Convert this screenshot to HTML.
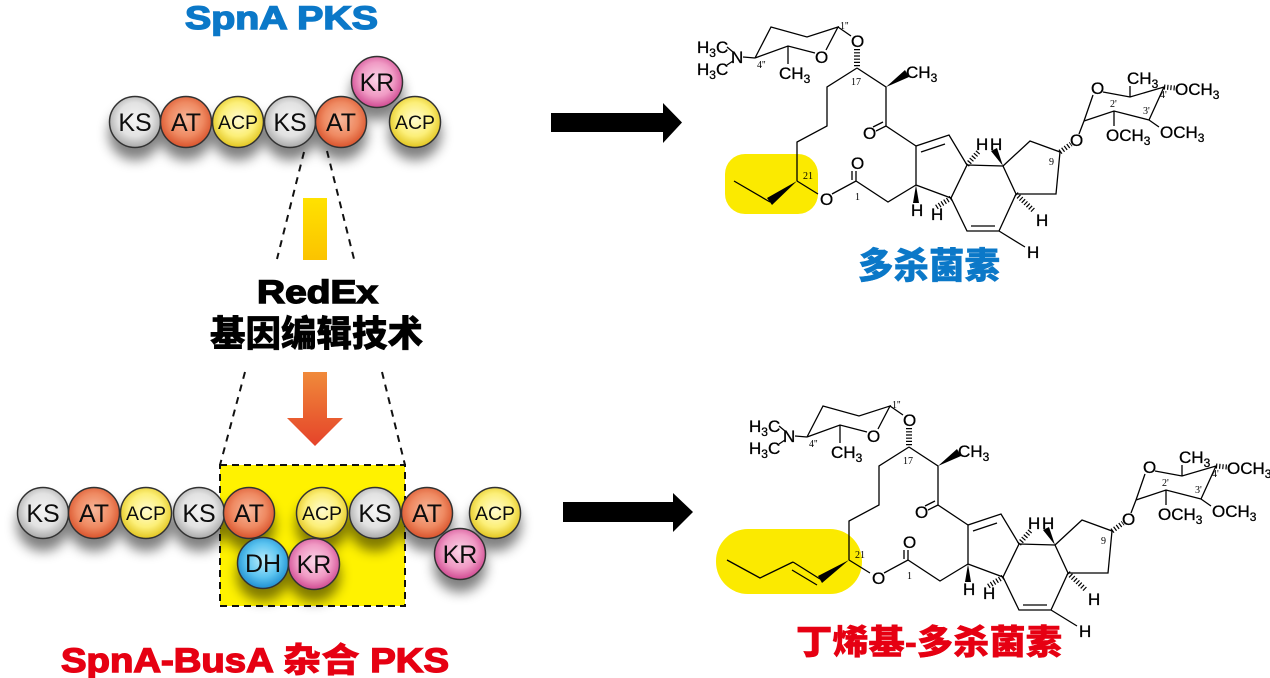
<!DOCTYPE html>
<html><head><meta charset="utf-8"><style>
html,body{margin:0;padding:0;background:#fff;}
svg{display:block;}
.t{font-family:"Liberation Sans","Noto Sans CJK SC",sans-serif;}
.m text{font-family:"Liberation Sans",sans-serif;font-size:17px;fill:#000;stroke:#000;stroke-width:0.3;}
.m text.s{font-family:"Liberation Serif",serif;font-size:10px;stroke:none;}
</style></head><body>
<svg width="1270" height="678" viewBox="0 0 1270 678" xmlns="http://www.w3.org/2000/svg">
<defs>
<radialGradient id="gKS" cx="50%" cy="45%" r="55%"><stop offset="0" stop-color="#f4f4f4"/><stop offset="0.6" stop-color="#e2e2e2"/><stop offset="1" stop-color="#a9a9a9"/></radialGradient>
<radialGradient id="gAT" cx="50%" cy="45%" r="55%"><stop offset="0" stop-color="#f7b79a"/><stop offset="0.6" stop-color="#ef8a62"/><stop offset="1" stop-color="#d9532c"/></radialGradient>
<radialGradient id="gACP" cx="50%" cy="45%" r="55%"><stop offset="0" stop-color="#fffbd0"/><stop offset="0.6" stop-color="#fcef78"/><stop offset="1" stop-color="#e2c520"/></radialGradient>
<radialGradient id="gKR" cx="50%" cy="45%" r="55%"><stop offset="0" stop-color="#fbd6e8"/><stop offset="0.6" stop-color="#f09ac4"/><stop offset="1" stop-color="#d04a92"/></radialGradient>
<radialGradient id="gDH" cx="50%" cy="45%" r="55%"><stop offset="0" stop-color="#b8ecfc"/><stop offset="0.6" stop-color="#5cc4f0"/><stop offset="1" stop-color="#1f8fd0"/></radialGradient>
<linearGradient id="gBar" x1="0" y1="0" x2="0" y2="1"><stop offset="0" stop-color="#ffe200"/><stop offset="1" stop-color="#fbc300"/></linearGradient>
<linearGradient id="gArr" x1="0" y1="0" x2="0" y2="1"><stop offset="0" stop-color="#f08a3a"/><stop offset="1" stop-color="#e5432a"/></linearGradient>
<filter id="sh" x="-20%" y="-40%" width="140%" height="200%">
<feGaussianBlur in="SourceAlpha" stdDeviation="6"/><feOffset dx="0" dy="12" result="o"/>
<feComponentTransfer><feFuncA type="linear" slope="0.5"/></feComponentTransfer>
<feMerge><feMergeNode/><feMergeNode in="SourceGraphic"/></feMerge></filter>
</defs>

<!-- Titles -->
<text class="t" x="185" y="29" font-size="32" font-weight="900" fill="#0b78c8" stroke="#0b78c8" stroke-width="1.4" textLength="193" lengthAdjust="spacingAndGlyphs">SpnA PKS</text>

<!-- Top PKS -->
<g filter="url(#sh)" stroke="#333" stroke-width="1.5" class="t" font-size="25" text-anchor="middle">
<circle cx="135" cy="122" r="25.5" fill="url(#gKS)"/>
<circle cx="186" cy="122" r="25.5" fill="url(#gAT)"/>
<circle cx="238" cy="122" r="25.5" fill="url(#gACP)"/>
<circle cx="290" cy="122" r="25.5" fill="url(#gKS)"/>
<circle cx="341" cy="122" r="25.5" fill="url(#gAT)"/>
<circle cx="377" cy="82" r="25.5" fill="url(#gKR)"/>
<circle cx="415" cy="122" r="25.5" fill="url(#gACP)"/>
<g stroke="none" fill="#111">
<text x="135" y="131">KS</text><text x="186" y="131">AT</text><text x="238" y="129" font-size="19.5">ACP</text>
<text x="290" y="131">KS</text><text x="341" y="131">AT</text><text x="377" y="91">KR</text><text x="415" y="129" font-size="19.5">ACP</text>
</g>
</g>

<!-- dashed lines -->
<g stroke="#111" stroke-width="2" stroke-dasharray="7 6" fill="none">
<line x1="304" y1="152" x2="277" y2="259"/>
<line x1="327" y1="151" x2="354" y2="259"/>
<line x1="245" y1="372" x2="220" y2="465"/>
<line x1="382" y1="372" x2="405" y2="465"/>
</g>
<rect x="303" y="198" width="24" height="62" fill="url(#gBar)"/>

<text class="t" x="257" y="303" font-size="32" font-weight="900" fill="#000" stroke="#000" stroke-width="1.4" textLength="121" lengthAdjust="spacingAndGlyphs">RedEx</text>
<text class="t" x="210" y="346" font-size="36" font-weight="900" fill="#000" stroke="#000" stroke-width="0.5" textLength="213" lengthAdjust="spacingAndGlyphs">基因编辑技术</text>

<polygon points="303,372 327,372 327,418 343,418 315,446 287,418 303,418" fill="url(#gArr)"/>

<!-- yellow box -->
<rect x="220" y="465" width="185" height="141" fill="#fff200" stroke="#111" stroke-width="2" stroke-dasharray="7 5"/>

<!-- Bottom PKS -->
<g filter="url(#sh)" stroke="#333" stroke-width="1.5" class="t" font-size="25" text-anchor="middle">
<circle cx="43" cy="513" r="25.5" fill="url(#gKS)"/>
<circle cx="94" cy="513" r="25.5" fill="url(#gAT)"/>
<circle cx="146" cy="513" r="25.5" fill="url(#gACP)"/>
<circle cx="199" cy="513" r="25.5" fill="url(#gKS)"/>
<circle cx="249" cy="513" r="25.5" fill="url(#gAT)"/>
<circle cx="322" cy="513" r="25.5" fill="url(#gACP)"/>
<circle cx="375" cy="513" r="25.5" fill="url(#gKS)"/>
<circle cx="427" cy="513" r="25.5" fill="url(#gAT)"/>
<circle cx="495" cy="513" r="25.5" fill="url(#gACP)"/>
<circle cx="263" cy="563" r="25.5" fill="url(#gDH)"/>
<circle cx="314" cy="564" r="25.5" fill="url(#gKR)"/>
<circle cx="460" cy="554" r="25.5" fill="url(#gKR)"/>
<g stroke="none" fill="#111">
<text x="43" y="522">KS</text><text x="94" y="522">AT</text><text x="146" y="520" font-size="19.5">ACP</text>
<text x="199" y="522">KS</text><text x="249" y="522">AT</text><text x="322" y="520" font-size="19.5">ACP</text>
<text x="375" y="522">KS</text><text x="427" y="522">AT</text><text x="495" y="520" font-size="19.5">ACP</text>
<text x="263" y="572">DH</text><text x="314" y="573">KR</text><text x="460" y="563">KR</text>
</g>
</g>

<text class="t" x="61" y="672" font-size="34" font-weight="900" fill="#e60012" stroke="#e60012" stroke-width="1.4" textLength="388" lengthAdjust="spacingAndGlyphs">SpnA-BusA <tspan stroke-width="0.5">杂合</tspan> PKS</text>

<!-- Big arrows -->
<polygon points="551,113 663,113 663,103 682,122.5 663,143 663,132 551,132" fill="#000"/>
<polygon points="563,502 673,502 673,493 693,512 673,532 673,522 563,522" fill="#000"/>

<!-- Highlights -->
<rect x="725" y="154" width="93" height="60" rx="20" fill="#fbea00"/>
<rect x="716" y="529" width="146" height="65" rx="32" fill="#fbea00"/>

<!-- Molecule 1 -->
<g class="m">
<g stroke="#000" stroke-width="1.3" fill="none">
<path d="M727,47 L733,52 M727,65 L733,61 M743,57 L755,58 M755,58 L771,27 L807,37 L838,27 L826,50 M815,53 L788,46 L755,58 M788,46 L788,64 M838,27 L851,36"/>
<line x1="857" y1="49" x2="857" y2="68" stroke-width="6" stroke-dasharray="1.2 2"/>
<path d="M857,68 L886,87 L886,126 M886,126 L876,131 M883,122 L873,127"/>
<path d="M857,68 L827,87 L827,126 L797,142 L797,181 M770,202 L734,181 M797,181 L818,194"/>
<path d="M832,194 L856,181 L888,202 L916,185 M856,181 L856,171 M852,180 L852,171"/>
<path d="M916,185 L916,146 L949,135 L967,165 L951,198 L916,185 M921,152 L945,144 M916,146 L886,126"/>
<path d="M967,165 L1003,166 L1016,194 L999,231 L967,231 L951,198 M995,226 L971,226 M999,231 L1025,247"/>
<line x1="951" y1="198" x2="935" y2="208" stroke-width="5" stroke-dasharray="1.2 2"/>
<line x1="967" y1="165" x2="979" y2="151" stroke-width="5" stroke-dasharray="1.2 2"/>
<line x1="1016" y1="194" x2="1034" y2="211" stroke-width="5" stroke-dasharray="1.2 2"/>
<path d="M1003,166 L1030,141 L1060,152 L1056,194 L1016,194"/>
<line x1="1060" y1="152" x2="1071" y2="144" stroke-width="5" stroke-dasharray="1.2 2"/>
<path d="M1079,134 L1084,121 M1084,121 L1093,95 M1103,92 L1130,97 L1164,87 L1149,120 L1114,111 L1084,121 M1130,97 L1130,86 M1149,120 L1159,127 M1114,111 L1114,126"/>
<line x1="1164" y1="87" x2="1175" y2="88" stroke-width="5" stroke-dasharray="1.2 2"/>
</g>
<g fill="#000">
<polygon points="886,87 905,70 909,77"/>
<polygon points="797,181 767,198 772,205"/>
<polygon points="916,185 913,203 919,203"/>
<polygon points="1003,166 991,151 997,148"/>
</g>
<text x="697" y="53">H<tspan font-size="12" dy="4">3</tspan><tspan dy="-4">C</tspan></text>
<text x="731" y="63">N</text>
<text x="697" y="75">H<tspan font-size="12" dy="4">3</tspan><tspan dy="-4">C</tspan></text>
<text x="815" y="63">O</text>
<text x="779" y="79">CH<tspan font-size="12" dy="4">3</tspan></text>
<text x="851" y="47">O</text>
<text x="906" y="78">CH<tspan font-size="12" dy="4">3</tspan></text>
<text x="863" y="139">O</text>
<text x="820" y="205">O</text>
<text x="851" y="169">O</text>
<text x="911" y="216">H</text>
<text x="931" y="220">H</text>
<text x="976" y="150">H</text>
<text x="990" y="150">H</text>
<text x="1027" y="258">H</text>
<text x="1036" y="226">H</text>
<text x="1070" y="146">O</text>
<text x="1091" y="94">O</text>
<text x="1127" y="84">CH<tspan font-size="12" dy="4">3</tspan></text>
<text x="1175" y="95">OCH<tspan font-size="12" dy="4">3</tspan></text>
<text x="1160" y="138">OCH<tspan font-size="12" dy="4">3</tspan></text>
<text x="1106" y="141">OCH<tspan font-size="12" dy="4">3</tspan></text>
<text class="s" x="840" y="29">1''</text>
<text class="s" x="757" y="68">4''</text>
<text class="s" x="851" y="85">17</text>
<text class="s" x="803" y="179">21</text>
<text class="s" x="855" y="200">1</text>
<text class="s" x="1049" y="165">9</text>
<text class="s" x="1110" y="107">2'</text>
<text class="s" x="1143" y="114">3'</text>
<text class="s" x="1160" y="98">4'</text>
</g>

<!-- Molecule 2 -->
<g class="m" transform="translate(52,379)">
<g stroke="#000" stroke-width="1.3" fill="none">
<path d="M727,47 L733,52 M727,65 L733,61 M743,57 L755,58 M755,58 L771,27 L807,37 L838,27 L826,50 M815,53 L788,46 L755,58 M788,46 L788,64 M838,27 L851,36"/>
<line x1="857" y1="49" x2="857" y2="68" stroke-width="6" stroke-dasharray="1.2 2"/>
<path d="M857,68 L886,87 L886,126 M886,126 L876,131 M883,122 L873,127"/>
<path d="M857,68 L827,87 L827,126 L797,142 L797,181 M797,181 L818,194"/>
<path d="M768,200 L741,183 M765,206 L740,191 M741,183 L708,199 L675,181"/>
<path d="M832,194 L856,181 L888,202 L916,185 M856,181 L856,171 M852,180 L852,171"/>
<path d="M916,185 L916,146 L949,135 L967,165 L951,198 L916,185 M921,152 L945,144 M916,146 L886,126"/>
<path d="M967,165 L1003,166 L1016,194 L999,231 L967,231 L951,198 M995,226 L971,226 M999,231 L1025,247"/>
<line x1="951" y1="198" x2="935" y2="208" stroke-width="5" stroke-dasharray="1.2 2"/>
<line x1="967" y1="165" x2="979" y2="151" stroke-width="5" stroke-dasharray="1.2 2"/>
<line x1="1016" y1="194" x2="1034" y2="211" stroke-width="5" stroke-dasharray="1.2 2"/>
<path d="M1003,166 L1030,141 L1060,152 L1056,194 L1016,194"/>
<line x1="1060" y1="152" x2="1071" y2="144" stroke-width="5" stroke-dasharray="1.2 2"/>
<path d="M1079,134 L1084,121 M1084,121 L1093,95 M1103,92 L1130,97 L1164,87 L1149,120 L1114,111 L1084,121 M1130,97 L1130,86 M1149,120 L1159,127 M1114,111 L1114,126"/>
<line x1="1164" y1="87" x2="1175" y2="88" stroke-width="5" stroke-dasharray="1.2 2"/>
</g>
<g fill="#000">
<polygon points="886,87 905,70 909,77"/>
<polygon points="797,181 766,197 770,204"/>
<polygon points="916,185 913,203 919,203"/>
<polygon points="1003,166 991,151 997,148"/>
</g>
<text x="697" y="53">H<tspan font-size="12" dy="4">3</tspan><tspan dy="-4">C</tspan></text>
<text x="731" y="63">N</text>
<text x="697" y="75">H<tspan font-size="12" dy="4">3</tspan><tspan dy="-4">C</tspan></text>
<text x="815" y="63">O</text>
<text x="779" y="79">CH<tspan font-size="12" dy="4">3</tspan></text>
<text x="851" y="47">O</text>
<text x="906" y="78">CH<tspan font-size="12" dy="4">3</tspan></text>
<text x="863" y="139">O</text>
<text x="820" y="205">O</text>
<text x="851" y="169">O</text>
<text x="911" y="216">H</text>
<text x="931" y="220">H</text>
<text x="976" y="150">H</text>
<text x="990" y="150">H</text>
<text x="1027" y="258">H</text>
<text x="1036" y="226">H</text>
<text x="1070" y="146">O</text>
<text x="1091" y="94">O</text>
<text x="1127" y="84">CH<tspan font-size="12" dy="4">3</tspan></text>
<text x="1175" y="95">OCH<tspan font-size="12" dy="4">3</tspan></text>
<text x="1160" y="138">OCH<tspan font-size="12" dy="4">3</tspan></text>
<text x="1106" y="141">OCH<tspan font-size="12" dy="4">3</tspan></text>
<text class="s" x="840" y="29">1''</text>
<text class="s" x="757" y="68">4''</text>
<text class="s" x="851" y="85">17</text>
<text class="s" x="803" y="179">21</text>
<text class="s" x="855" y="200">1</text>
<text class="s" x="1049" y="165">9</text>
<text class="s" x="1110" y="107">2'</text>
<text class="s" x="1143" y="114">3'</text>
<text class="s" x="1160" y="98">4'</text>
</g>

<!-- Product labels -->
<text class="t" x="858" y="278" font-size="36" font-weight="900" fill="#0b78c8" stroke="#0b78c8" stroke-width="0.5" textLength="142" lengthAdjust="spacingAndGlyphs">多杀菌素</text>
<text class="t" x="796" y="654" font-size="34" font-weight="900" fill="#e60012" stroke="#e60012" stroke-width="0.5" textLength="266" lengthAdjust="spacingAndGlyphs">丁烯基-多杀菌素</text>
</svg>
</body></html>
